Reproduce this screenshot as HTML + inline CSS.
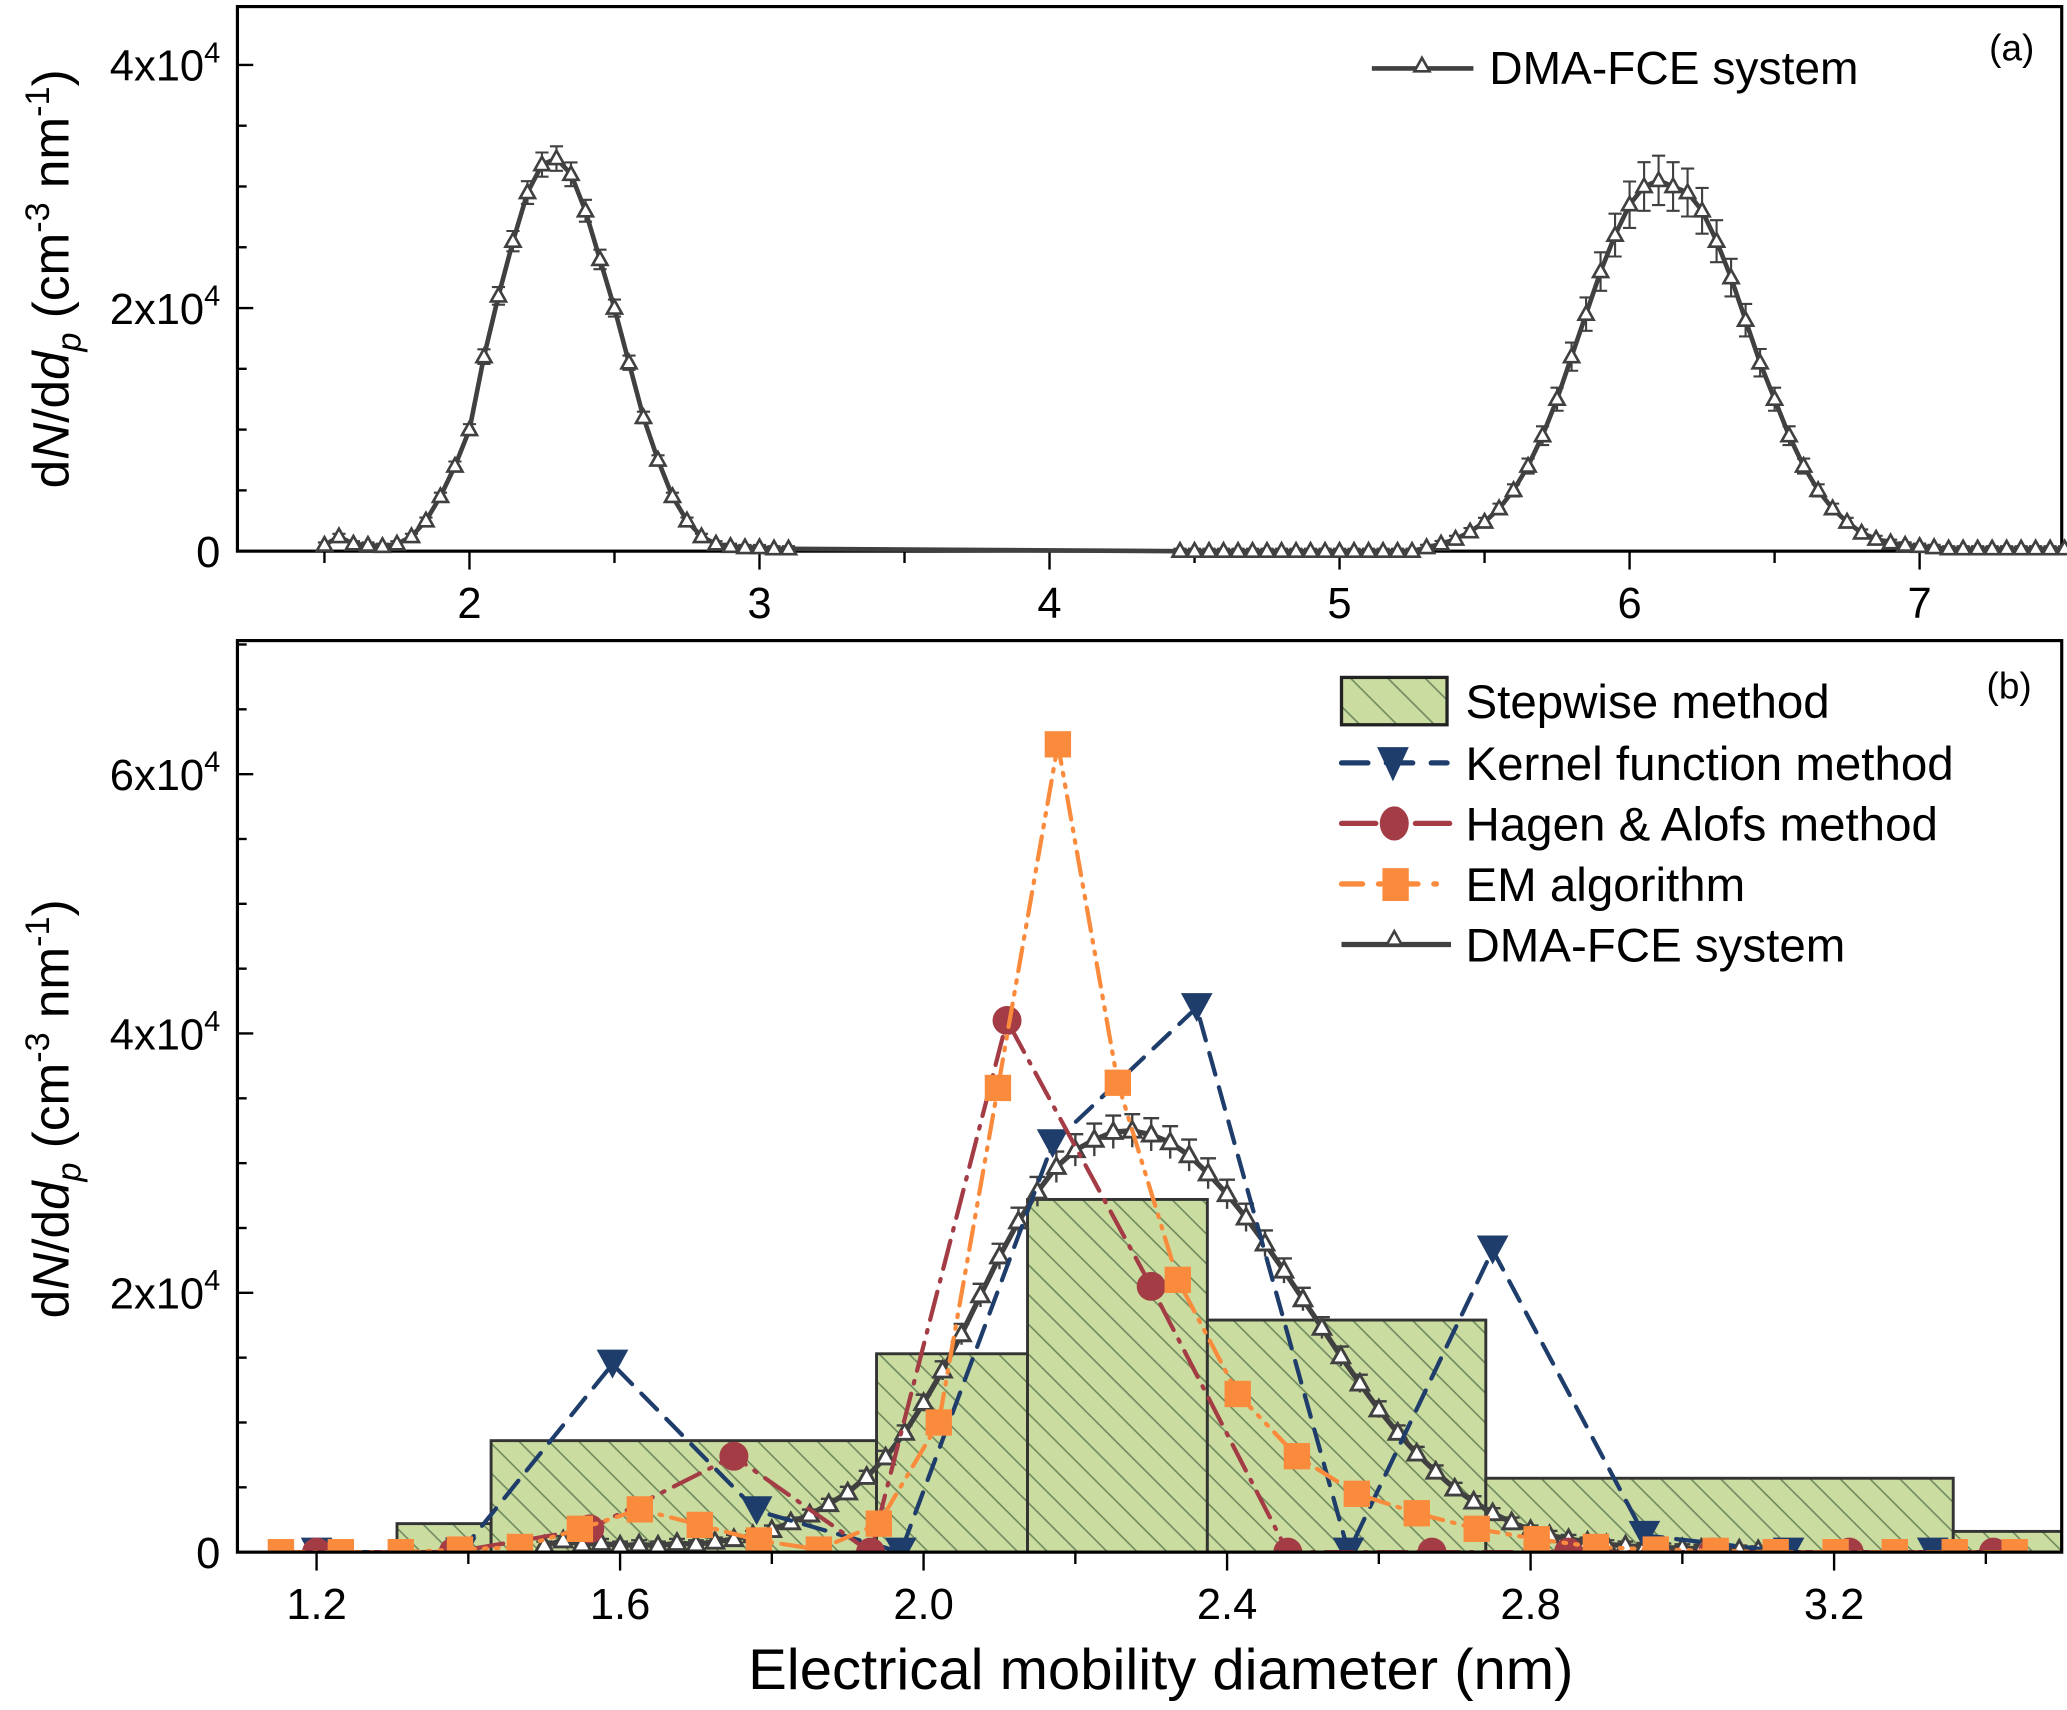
<!DOCTYPE html>
<html><head><meta charset="utf-8">
<style>
html,body{margin:0;padding:0;background:#fff;}
svg{display:block;font-family:"Liberation Sans",Arial,sans-serif;}
</style></head>
<body>
<svg id="chart" width="2067" height="1710" viewBox="0 0 1567 1300" preserveAspectRatio="none" xmlns="http://www.w3.org/2000/svg">
<defs>
<pattern id="hatch" patternUnits="userSpaceOnUse" width="16" height="16" patternTransform="rotate(45)">
<rect width="16" height="16" fill="#cadca0"/>
<line x1="0" y1="0" x2="16" y2="0" stroke="#6f8a5e" stroke-width="2.4"/>
</pattern>
<pattern id="hatchL" patternUnits="userSpaceOnUse" width="20" height="20" patternTransform="rotate(45)">
<rect width="20" height="20" fill="#cadca0"/>
<line x1="0" y1="0" x2="20" y2="0" stroke="#6f8a5e" stroke-width="2.4"/>
</pattern>
</defs>
<g id="top"></g>
<g id="bot"></g>
</svg>
<script>
// ---------- Panel (a) data ----------
const topX = [1.50,1.55,1.60,1.65,1.70,1.75,1.80,1.85,1.90,1.95,2.00,2.05,2.10,2.15,2.20,2.25,2.30,2.35,2.40,2.45,2.50,2.55,2.60,2.65,2.70,2.75,2.80,2.85,2.90,2.95,3.00,3.05,3.10,
4.45,4.50,4.55,4.60,4.65,4.70,4.75,4.80,4.85,4.90,4.95,5.00,5.05,5.10,5.15,5.20,5.25,5.30,5.35,5.40,5.45,5.50,5.55,5.60,5.65,5.70,5.75,5.80,5.85,5.90,5.95,6.00,6.05,6.10,6.15,6.20,6.25,6.30,6.35,6.40,6.45,6.50,6.55,6.60,6.65,6.70,6.75,6.80,6.85,6.90,6.95,7.00,7.05,7.10,7.15,7.20,7.25,7.30,7.35,7.40,7.45,7.50];
const topY = [500,1200,600,500,400,600,1200,2500,4500,7000,10000,16000,21000,25500,29500,31800,32300,31000,28000,24000,20000,15500,11000,7500,4500,2500,1200,600,400,300,300,200,200,
0,0,0,0,0,0,0,0,0,0,0,0,0,0,0,0,0,300,600,1000,1600,2400,3500,5000,7000,9500,12500,16000,19500,23000,26000,28500,30000,30500,30000,29500,28000,25500,22500,19000,15500,12500,9500,7000,5000,3500,2400,1500,1000,700,500,400,300,200,200,200,200,200,200,200,200,200];
const topXTicks = [2,3,4,5,6,7];
const topYTicks = [0,20000,40000];

// ---------- Panel (b) data ----------
const stepEdges = [1.306,1.430,1.938,2.137,2.374,2.741,3.357,3.50];
const stepVals  = [2200,8600,15300,27200,17900,5700,1600];
const kernelX = [1.20,1.39,1.59,1.78,1.97,2.17,2.36,2.56,2.75,2.95,3.14,3.33];
const kernelY = [0,0,14500,3200,0,31500,42000,0,23300,1300,0,0];
const hagenX = [1.20,1.38,1.56,1.75,1.93,2.11,2.30,2.48,2.67,2.85,3.04,3.22,3.41];
const hagenY = [0,0,1800,7400,0,41000,20500,0,0,0,0,0,0];
const emX = [1.153,1.232,1.311,1.389,1.468,1.547,1.626,1.705,1.783,1.862,1.941,2.020,2.098,2.177,2.256,2.335,2.414,2.492,2.571,2.650,2.729,2.808,2.886,2.965,3.044,3.123,3.202,3.280,3.359,3.438];
const emY = [0,0,0,200,400,1800,3300,2100,900,200,2200,10000,35800,62300,36200,21000,12200,7400,4500,3000,1800,1000,400,200,100,0,0,0,0,0];
const dmaX = [1.50,1.525,1.55,1.575,1.60,1.625,1.65,1.675,1.70,1.725,1.75,1.775,1.80,1.825,1.85,1.875,1.90,1.925,1.95,1.975,2.00,2.025,2.05,2.075,2.10,2.125,2.15,2.175,2.20,2.225,2.25,2.275,2.30,2.325,2.35,2.375,2.40,2.425,2.45,2.475,2.50,2.525,2.55,2.575,2.60,2.625,2.65,2.675,2.70,2.725,2.75,2.775,2.80,2.825,2.85,2.875,2.90,2.925,2.95,2.975,3.00,3.025,3.05,3.075,3.10];
const dmaY = [500,900,600,700,500,600,500,700,600,800,1000,1300,1700,2300,2900,3700,4600,5800,7300,9200,11500,14000,16800,19800,22800,25500,27800,29700,31000,31800,32400,32500,32200,31600,30600,29200,27600,25800,23800,21700,19500,17300,15100,13000,11000,9200,7600,6200,4900,3900,3000,2300,1700,1300,1000,800,600,500,400,350,300,250,200,200,150];
const botXTicks = [1.2,1.6,2.0,2.4,2.8,3.2];
const botYTicks = [0,20000,40000,60000];

const NS = "http://www.w3.org/2000/svg";
function mk(parent, tag, attrs){ const e=document.createElementNS(NS,tag); for(const k in attrs) e.setAttribute(k,attrs[k]); parent.appendChild(e); return e; }

const A = {x0:180,x1:1563,y0:5,y1:419,xmin:1.2,xmax:7.49,ymin:0,ymax:44800};
const B = {x0:180,x1:1563,y0:487,y1:1180,xmin:1.0957,xmax:3.5,ymin:0,ymax:70300};
function sx(P,v){ return P.x0+(v-P.xmin)/(P.xmax-P.xmin)*(P.x1-P.x0); }
function sy(P,v){ return P.y1-(v-P.ymin)/(P.ymax-P.ymin)*(P.y1-P.y0); }

function sciLabel(g,P,v,x){
  const t = mk(g,'text',{x:x,y:sy(P,v)+12,'text-anchor':'end','font-size':33,fill:'#000'});
  
  
  if(v===0){ t.textContent='0'; return; }
  const m = v/10000;
  const s1 = document.createElementNS(NS,'tspan'); s1.textContent=m+'x10'; t.appendChild(s1);
  const s2 = document.createElementNS(NS,'tspan'); s2.setAttribute('dy','-14'); s2.setAttribute('font-size','22'); s2.textContent='4'; t.appendChild(s2);
}

function yTitle(g, cx, cy){
  const t = mk(g,'text',{transform:`translate(${cx},${cy}) rotate(-90)`,'text-anchor':'middle','font-size':39,fill:'#000'});
  
  
  t.innerHTML = 'd<tspan font-style="italic">N</tspan>/d<tspan font-style="italic">d</tspan><tspan font-style="italic" font-size="26" dy="9">p</tspan><tspan dy="-9"> (cm</tspan><tspan font-size="26" dy="-15">-3</tspan><tspan dy="15"> nm</tspan><tspan font-size="26" dy="-15">-1</tspan><tspan dy="15">)</tspan>';
}

function frame(g,P,xTicks,xMinorStep,yMinorStep,yTicks,xFmt){
  const f = mk(g,'rect',{x:P.x0,y:P.y0,width:P.x1-P.x0,height:P.y1-P.y0,fill:'none',stroke:'#000','stroke-width':2.4});
  
  
  for(let v=Math.ceil(P.xmin/xMinorStep)*xMinorStep; v<=P.xmax+1e-9; v+=xMinorStep){
    const x=sx(P,v); const major = xTicks.some(t=>Math.abs(t-v)<1e-6);
    const l = mk(g,'line',{x1:x,x2:x,y1:P.y1,y2:P.y1+(major?14:9),stroke:'#000','stroke-width':1.8});
    
    
  }
  xTicks.forEach(v=>{
    const t = mk(g,'text',{x:sx(P,v),y:P.y1+51,'text-anchor':'middle','font-size':33,fill:'#000'});
    
    
    t.textContent = xFmt(v);
  });
  for(let v=0; v<=P.ymax; v+=yMinorStep){
    const y=sy(P,v); const major = yTicks.includes(v);
    const l = mk(g,'line',{x1:P.x0,x2:P.x0+(major?12:7),y1:y,y2:y,stroke:'#000','stroke-width':1.8});
    
    
  }
  yTicks.forEach(v=>sciLabel(g,P,v,167));
}

function tri(g,x,y,r,fill,stroke,sw){
  return mk(g,'path',{d:`M${x},${y-r}L${x+r*0.95},${y+r*0.7}L${x-r*0.95},${y+r*0.7}Z`,fill:fill,stroke:stroke,'stroke-width':sw||1.8});
}

// ---------------- Panel (a) ----------------
const gt = document.getElementById('top');
frame(gt,A,topXTicks,0.5,5000,topYTicks,v=>String(v));
yTitle(gt,52,212);
{
  let d=''; topX.forEach((x,i)=>{ d+=(i?'L':'M')+sx(A,x).toFixed(1)+','+sy(A,topY[i]).toFixed(1); });
  const ln = mk(gt,'path',{d:d,fill:'none',stroke:'#404040','stroke-width':3.5});
  
  
  topX.forEach((x,i)=>{
    const X=sx(A,x), Y=sy(A,topY[i]);
    const e = topY[i]*(x>5?0.06:0.025)+200;
    const eb = mk(gt,'path',{d:`M${X},${sy(A,topY[i]+e)}V${sy(A,Math.max(0,topY[i]-e))}M${X-5},${sy(A,topY[i]+e)}h10M${X-5},${sy(A,Math.max(0,topY[i]-e))}h10`,stroke:'#404040','stroke-width':1.6,fill:'none'});
    
    
    const m = tri(gt,X,Y,6,'#fff','#404040',2);
    
    
  });
  const lg = mk(gt,'g',{});  
  mk(lg,'line',{x1:1040,x2:1117,y1:52,y2:52,stroke:'#404040','stroke-width':3.5});
  tri(lg,1078,50,6,'#fff','#404040',2);
  const lt = mk(lg,'text',{x:1129,y:64,'font-size':35,fill:'#000'}); lt.textContent='DMA-FCE system';
  const pa = mk(gt,'text',{x:1508,y:46,'font-size':28,fill:'#000'}); pa.textContent='(a)';
   
}

// ---------------- Panel (b) ----------------
const gb = document.getElementById('bot');
const clip = mk(gb,'clipPath',{id:'clipB'}); mk(clip,'rect',{x:B.x0,y:B.y0,width:B.x1-B.x0,height:B.y1-B.y0});
const plot = mk(gb,'g',{'clip-path':'url(#clipB)'});
stepVals.forEach((v,i)=>{
  const x0=sx(B,stepEdges[i]), x1=sx(B,stepEdges[i+1]);
  const r = mk(plot,'rect',{x:x0,y:sy(B,v),width:x1-x0,height:sy(B,0)-sy(B,v),fill:'url(#hatch)',stroke:'#333','stroke-width':2.2});
  
  
});
function series(xs,ys,color,dash,name,marker){
  let d=''; xs.forEach((x,i)=>{ d+=(i?'L':'M')+sx(B,x).toFixed(1)+','+sy(B,ys[i]).toFixed(1); });
  const p = mk(plot,'path',{d:d,fill:'none',stroke:color,'stroke-width':3.2,'stroke-dasharray':dash,'stroke-linecap':'round'});
  
  
  xs.forEach((x,i)=>{
    const X=sx(B,x), Y=sy(B,ys[i]); let m;
    if(marker==='tri') m = mk(plot,'path',{d:`M${X-12},${Y-11}L${X+12},${Y-11}L${X},${Y+11}Z`,fill:color});
    else if(marker==='circ') m = mk(plot,'circle',{cx:X,cy:Y,r:11,fill:color});
    else m = mk(plot,'rect',{x:X-10,y:Y-10,width:20,height:20,fill:color});
    
    
  });
}
{
  let d=''; dmaX.forEach((x,i)=>{ d+=(i?'L':'M')+sx(B,x).toFixed(1)+','+sy(B,dmaY[i]).toFixed(1); });
  const p = mk(plot,'path',{d:d,fill:'none',stroke:'#404040','stroke-width':4});
  
  
  dmaX.forEach((x,i)=>{
    const X=sx(B,x), Y=sy(B,dmaY[i]); const e=dmaY[i]*0.03+300;
    const eb = mk(plot,'path',{d:`M${X},${sy(B,dmaY[i]+e)}V${sy(B,Math.max(0,dmaY[i]-e))}M${X-6},${sy(B,dmaY[i]+e)}h12`,stroke:'#404040','stroke-width':1.8,fill:'none'});
    
    
    const m = tri(plot,X,Y,7,'#fff','#404040',2.2);
    
    
  });
}
series(kernelX,kernelY,'#1f3d6b','17 10','kernel','tri');
series(hagenX,hagenY,'#a33c45','22 8 2 8','hagen','circ');
series(emX,emY,'#fb8b3c','18 7 2 7 2 7','em','sq');
frame(gb,B,botXTicks,0.2,5000,botYTicks,v=>v.toFixed(1));
yTitle(gb,52,843);
{
  const xt = mk(gb,'text',{x:880,y:1284,'text-anchor':'middle','font-size':44,fill:'#000'});
   
  xt.textContent='Electrical mobility diameter (nm)';
  const pb = mk(gb,'text',{x:1506,y:531,'font-size':28,fill:'#000'}); pb.textContent='(b)';
   
  const lg = mk(gb,'g',{});  
  const names=['Stepwise method','Kernel function method','Hagen & Alofs method','EM algorithm','DMA-FCE system'];
  const ys=[533,580,626,672,718];
  mk(lg,'rect',{x:1017,y:515,width:80,height:36,fill:'url(#hatchL)',stroke:'#222','stroke-width':2.5});
  mk(lg,'line',{x1:1017,x2:1097,y1:580,y2:580,stroke:'#1f3d6b','stroke-width':4,'stroke-dasharray':'20 14','stroke-linecap':'round'});
  mk(lg,'path',{d:'M1044,568L1068,568L1056,594Z',fill:'#1f3d6b'});
  mk(lg,'line',{x1:1017,x2:1100,y1:626,y2:626,stroke:'#a33c45','stroke-width':4,'stroke-dasharray':'26 30','stroke-linecap':'round'});
  mk(lg,'ellipse',{cx:1057,cy:626,rx:11,ry:13,fill:'#a33c45'});
  mk(lg,'line',{x1:1017,x2:1100,y1:672,y2:672,stroke:'#fb8b3c','stroke-width':4,'stroke-dasharray':'16 12 2 12','stroke-linecap':'round'});
  mk(lg,'rect',{x:1048,y:660,width:20,height:25,fill:'#fb8b3c'});
  mk(lg,'line',{x1:1017,x2:1100,y1:718,y2:718,stroke:'#404040','stroke-width':4});
  tri(lg,1057,714,6,'#fff','#404040',2);
  names.forEach((n,i)=>{
    const t = mk(lg,'text',{x:1111,y:ys[i]+13,'font-size':36,fill:'#000'});
    
    
    t.textContent=n;
  });
}
</script>
</body></html>
